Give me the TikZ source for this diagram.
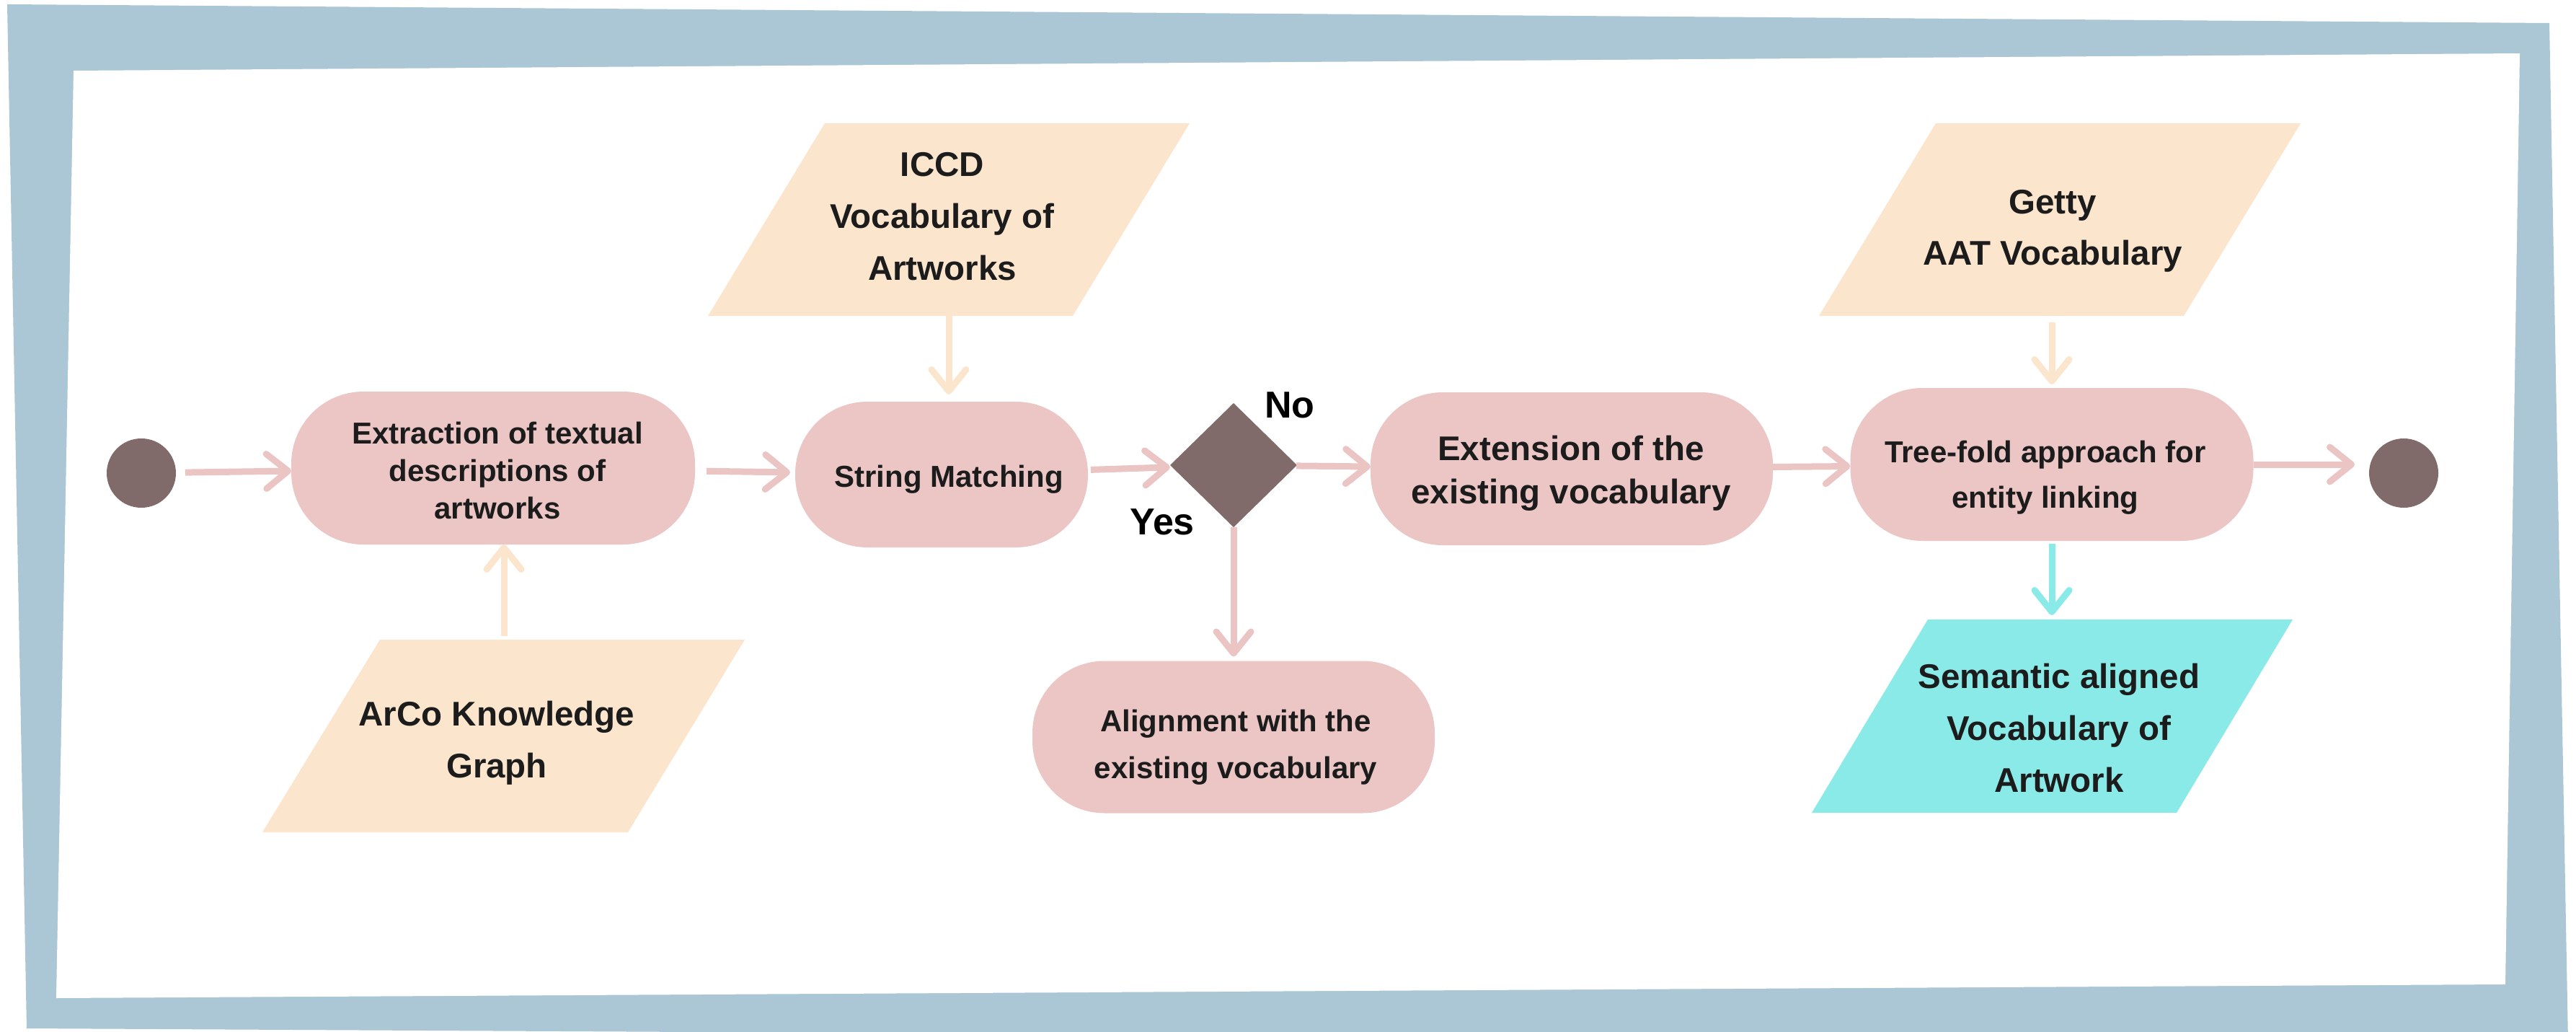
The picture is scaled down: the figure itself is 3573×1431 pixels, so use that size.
\documentclass[tikz,border=0pt]{standalone}
\usepackage{fontspec}
\setmainfont{Liberation Sans}
\usetikzlibrary{arrows.meta,shapes.geometric}

\definecolor{framebl}{RGB}{171,198,212}
\definecolor{boxpink}{RGB}{235,198,197}
\definecolor{linkpink}{RGB}{235,197,196}
\definecolor{darkmauve}{RGB}{128,106,106}
\definecolor{peach}{RGB}{251,229,205}
\definecolor{aqua}{RGB}{138,234,231}
\definecolor{inkdark}{RGB}{28,28,28}

\tikzset{
  procbox/.style={rectangle, rounded corners=100pt, fill=boxpink, inner sep=0pt, outer sep=0pt},
  endpt/.style={circle, fill=darkmauve, minimum size=96pt, inner sep=0pt, outer sep=0pt},
  decision/.style={diamond, fill=darkmauve, minimum width=176pt, minimum height=172pt, inner sep=0pt, outer sep=0pt},
  barb/.style={-{Straight Barb[length=30pt,width=48pt,round]}},
  flow/.style={barb, line width=9pt, draw=linkpink},
  feed/.style={barb, line width=9pt, draw=peach},
  result/.style={barb, line width=9pt, draw=aqua},
  lbl/.style 2 args={text=inkdark, align=center, inner sep=0pt, font=\bfseries\fontsize{#1}{#2}\selectfont},
  yesno/.style={text=black, inner sep=0pt, font=\bfseries\fontsize{52}{60}\selectfont}
}

\begin{document}
\begin{tikzpicture}[x=1pt,y=1pt,yscale=-1]
        \useasboundingbox (0,0) rectangle (3573,1431);
        \fill[white] (0,0) rectangle (3573,1431);

        % frame
        \fill[framebl] (10,6) -- (3536,32) -- (3562,1445) -- (37,1426) -- cycle;
        \fill[white] (102,98) -- (3495,74) -- (3475,1365) -- (78,1384) -- cycle;

        % data shapes
        \fill[peach] (1144,171) -- (1650,171) -- (1488,438) -- (982,438) -- cycle;
        \fill[peach] (527,887) -- (1033,887) -- (871,1154) -- (364,1154) -- cycle;
        \fill[peach] (2685,171) -- (3191,171) -- (3029,438) -- (2523,438) -- cycle;
        \fill[aqua] (2674,859) -- (3180,859) -- (3019,1127) -- (2513,1127) -- cycle;
        \coordinate (iccdB) at (1316,438);
        \coordinate (arcoT) at (699,887);
        \coordinate (gettyB) at (2846,438);
        \coordinate (semT) at (2846,859);

        % process shapes
        \node[endpt] (start) at (196,656) {};
        \node[procbox, minimum width=560pt, minimum height=212pt] (extract) at (684,649) {};
        \node[procbox, minimum width=406pt, minimum height=202pt] (strmatch) at (1306,658) {};
        \node[decision] (dec) at (1711,645) {};
        \node[procbox, minimum width=558pt, minimum height=211pt] (align) at (1711,1022) {};
        \node[procbox, minimum width=558pt, minimum height=212pt] (extend) at (2180,650) {};
        \node[procbox, minimum width=559pt, minimum height=212pt] (linking) at (2846,644) {};
        \node[endpt] (stop) at (3334,656) {};

        % connectors
        \draw[flow, shorten <=13pt] (start) -- (extract);
        \draw[flow, shorten <=16pt, shorten >=7pt] (extract) -- (strmatch);
        \draw[flow, shorten <=4pt, shorten >=3pt] (strmatch) -- (dec);
        \draw[flow] (dec) -- (extend);
        \draw[flow, shorten >=6pt] (dec) -- (align);
        \draw[flow] (extend) -- (linking);
        \draw[flow, shorten >=20pt] (linking.east) -- (stop.west |- linking.east);
        \draw[feed, shorten >=10pt] (iccdB) -- (iccdB |- strmatch.north);
        \draw[feed, shorten <=5pt] (arcoT) -- (arcoT |- extract.south);
        \draw[feed, shorten <=9pt, shorten >=5pt] (gettyB) -- (gettyB |- linking.north);
        \draw[result, shorten <=4pt, shorten >=6pt] (linking) -- (semT);

        % Text Node
        \node[lbl={42}{52}] (extractT) at (690,652) {Extraction of textual\\descriptions of\\artworks};
        % Text Node
        \node[lbl={42}{52}] (strmatchT) at (1316,665) {String Matching};
        % Text Node
        \node[lbl={42}{65}] (alignT) at (1714,1036) {Alignment with the\\existing vocabulary};
        % Text Node
        \node[lbl={47.5}{60}] (extendT) at (2179,656) {Extension of the\\existing vocabulary};
        % Text Node
        \node[lbl={42}{63}] (linkingT) at (2837,662) {Tree-fold approach for\\entity linking};
        % Text Node
        \node[lbl={47.5}{72}] (iccdT) at (1307,300) {ICCD\\Vocabulary of\\Artworks};
        % Text Node
        \node[lbl={47.5}{72}] (arcoT2) at (689,1030) {ArCo Knowledge\\Graph};
        % Text Node
        \node[lbl={47.5}{71}] (gettyT) at (2847,320) {Getty\\AAT Vocabulary};
        % Text Node
        \node[lbl={47.5}{72}] (semT2) at (2856,1010) {Semantic aligned\\Vocabulary of\\Artwork};
        % Text Node
        \node[yesno] (noT) at (1789,562) {No};
        % Text Node
        \node[yesno] (yesT) at (1612,724) {Yes};

\end{tikzpicture}
\end{document}
